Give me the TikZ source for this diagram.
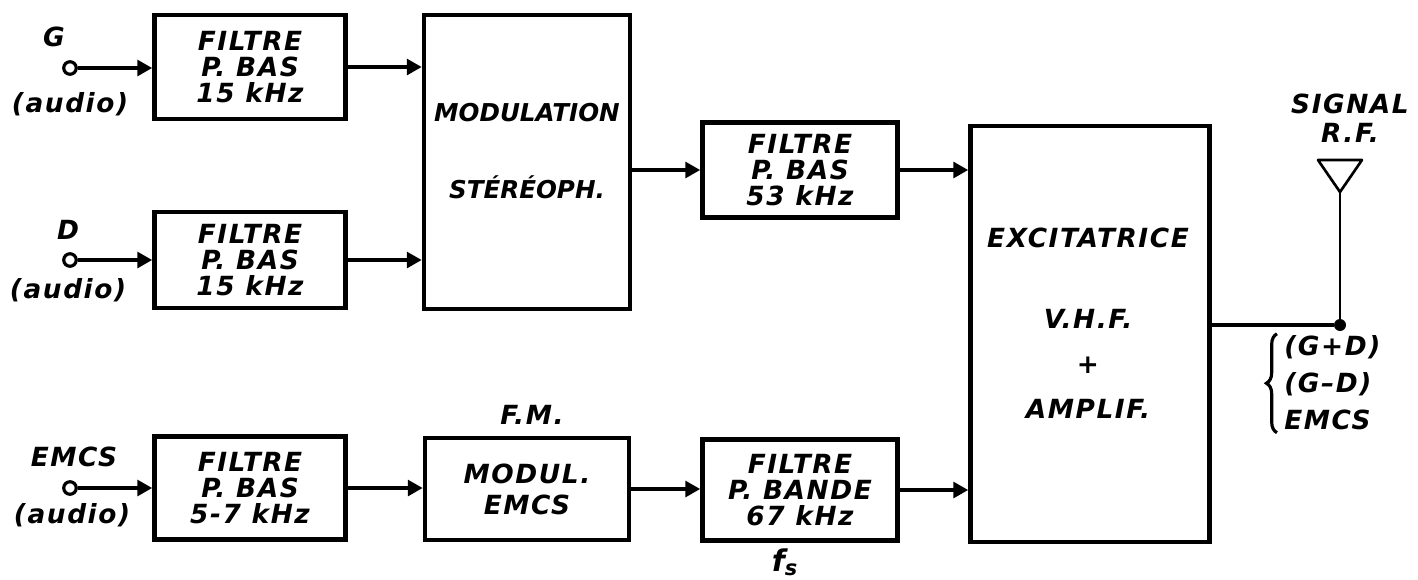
\documentclass[tikz,border=0pt]{standalone}
\usepackage{fontspec}
\setmainfont{DejaVu Sans}
\newfontfamily\lettrfam{DejaVu Sans}[LetterSpace=6]
\newfontfamily\narrfam{DejaVu Sans}
\newcommand{\lettr}{\lettrfam\bfseries\itshape\fontsize{15}{15}\selectfont}
\newcommand{\narr}{\narrfam\bfseries\itshape\fontsize{14}{15}\selectfont}
\usepackage{tikz}
\usetikzlibrary{arrows.meta,positioning,calc,decorations.pathreplacing}

\begin{document}
\begin{tikzpicture}[x=0.02cm,y=-0.02cm,>={Triangle[length=8.5pt,width=9pt]},font=\lettr,
   blk/.style={draw,line width=2.6pt,align=center,inner sep=1pt},
   term/.style={circle,draw,fill=white,line width=1.8pt,minimum size=0.25cm,inner sep=0pt},
   sig/.style={line width=2pt}]
  \useasboundingbox (0,0) rectangle (1418,579);
  % inputs
  \node[term] (gin) at (70,68) {};
  \node[term] (din) at (70,260) {};
  \node[term] (ein) at (70,488) {};
  \node (glab) at (54,37) {G};
  \node (gaud) at (70,104) {(audio)};
  \node (dlab) at (68,230) {D};
  \node (daud) at (68,290) {(audio)};
  \node (elab) at (74,457) {EMCS};
  \node (eaud) at (72,515) {(audio)};
  % blocks
  \node[blk,minimum width=3.82cm,minimum height=2.08cm] (fg) at (250,67) {FILTRE\\P. BAS\\15 kHz};
  \node[blk,minimum width=3.82cm,minimum height=1.92cm] (fd) at (250,260) {FILTRE\\P. BAS\\15 kHz};
  \node[blk,minimum width=3.82cm,minimum height=2.06cm] (fe) at (250,488) {FILTRE\\P. BAS\\5-7 kHz};
  \node[blk,minimum width=4.12cm,minimum height=5.88cm] (mod) at (527,162) {};
  \node[align=center,font=\narr] (modt) at (527,151) {MODULATION\\[28.7pt]STÉRÉOPH.};
  \node[blk,minimum width=3.9cm,minimum height=1.9cm] (f53) at (800,170) {FILTRE\\P. BAS\\53 kHz};
  \node[blk,minimum width=4.08cm,minimum height=2.04cm] (modul) at (527,489) {MODUL.\\[2.6pt]EMCS};
  \node[blk,minimum width=3.9cm,minimum height=2.02cm] (f67) at (800,490) {FILTRE\\P. BANDE\\67 kHz};
  \node[blk,minimum width=4.78cm,minimum height=8.32cm] (exc) at (1090,334) {};
  \node[align=center] (exct) at (1088,323) {EXCITATRICE\\[31pt]V.H.F.\\[10.5pt]+\\[10.5pt]AMPLIF.};
  \node (fm) at (532,415) {F.M.};
  \node[anchor=north,inner sep=0pt,font=\lettrfam\bfseries\itshape\fontsize{17}{18}\selectfont] (fs) at (785,548) {f\textsubscript{s}};
  % connections
  \draw[sig,->] (gin) -- (gin -| fg.west);
  \draw[sig,->] (din) -- (din -| fd.west);
  \draw[sig,->] (ein) -- (ein -| fe.west);
  \draw[sig,->] (fg.east) -- (fg.east -| mod.west);
  \draw[sig,->] (fd.east) -- (fd.east -| mod.west);
  \draw[sig,->] (mod.east |- f53) -- (f53.west);
  \draw[sig,->] (f53.east) -- (f53.east -| exc.west);
  \draw[sig,->] (fe.east) -- (fe.east -| modul.west);
  \draw[sig,->] (modul.east) -- (modul.east -| f67.west);
  \draw[sig,->] (f67.east) -- (f67.east -| exc.west);
  % antenna
  \node[circle,fill,inner sep=0pt,minimum size=0.24cm] (rf) at (1340,325) {};
  \coordinate (apex) at (1340,192);
  \draw[sig] (exc.east |- rf) -- (rf);
  \draw[line width=1.5pt] (rf) -- (apex);
  \draw[line width=1.5pt,line join=round] (apex) -- ++(-22,-32) -- ++(44,0) -- cycle;
  \node[align=center] (sigl) at (1350,118) {SIGNAL\\[1.4pt]R.F.};
  \node[anchor=west,inner sep=0pt] (mix) at (1284,385) {\def\arraystretch{1.42}\begin{tabular}{@{}l@{}}(G+D)\\(G–D)\\EMCS\end{tabular}};
  \draw[line width=1.8pt,decorate,decoration={brace,amplitude=6pt}]
    ([xshift=-4pt,yshift=5pt]mix.south west) -- ([xshift=-4pt,yshift=-3pt]mix.north west);
\end{tikzpicture}
\end{document}
